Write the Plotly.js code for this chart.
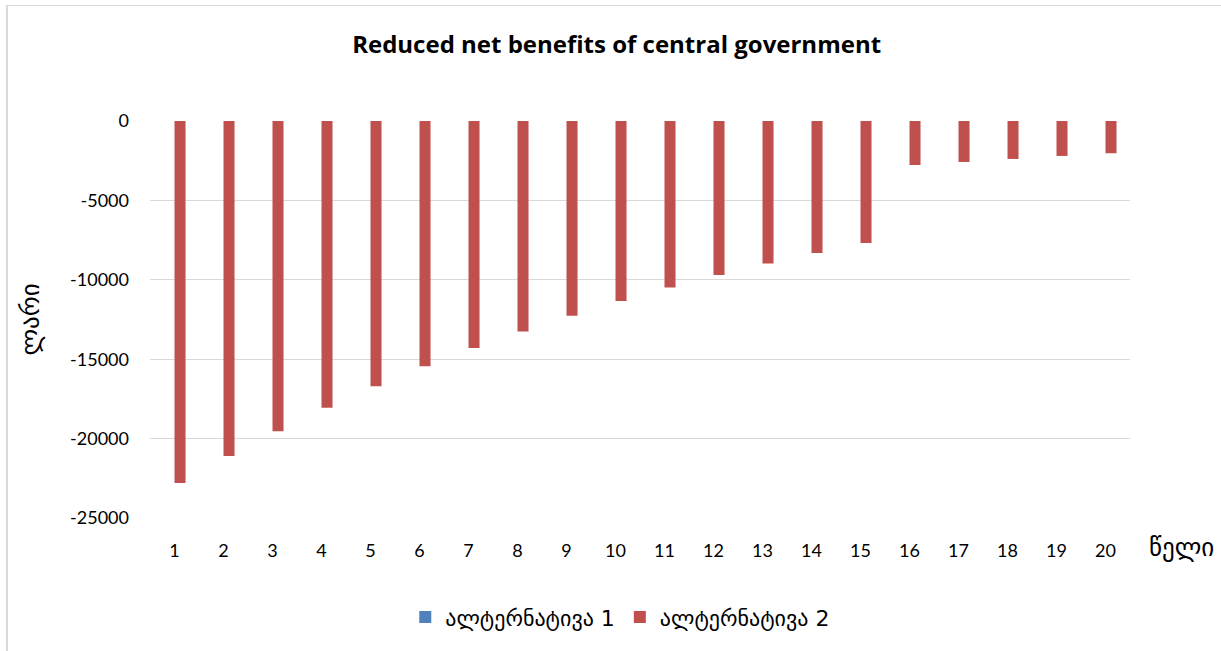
<!DOCTYPE html>
<html>
<head>
<meta charset="utf-8">
<script src="https://cdn.plot.ly/plotly-3.0.1.min.js"></script>
<style>
  html, body { margin: 0; padding: 0; background: #ffffff; }
  #frame { position: absolute; left: 6px; top: 5px; width: 1215px; height: 646px;
           border-left: 2px solid #d9d9d9; border-top: 1px solid #d9d9d9; box-sizing: border-box; }
  #chart { position: absolute; left: 0; top: 0; width: 1221px; height: 651px; }
</style>
</head>
<body>
<div id="frame"></div>
<div id="chart"></div>
<script>
const years = ['1','2','3','4','5','6','7','8','9','10','11','12','13','14','15','16','17','18','19','20'];
const alt1 = [0,0,0,0,0,0,0,0,0,0,0,0,0,0,0,0,0,0,0,0];
const alt2 = [-22800,-21100,-19530,-18050,-16700,-15450,-14300,-13250,-12260,-11340,
              -10480,-9690,-8970,-8320,-7690,-2770,-2580,-2390,-2200,-2030];
const yTickVals = [0, -5000, -10000, -15000, -20000, -25000];
const yTickText = ['0', '-5000', '-10000', '-15000', '-20000', '-25000'];
const seriesNames = ['ალტერნატივა 1', 'ალტერნატივა 2'];
const chartTitle = 'Reduced net benefits of central government';
const yTitle = 'ლარი';
const xTitle = 'წელი';

const tickFont = {family: 'Lato, "Liberation Sans", sans-serif', size: 18, color: '#000000'};
const geoFont = {family: '"DejaVu Sans", sans-serif', size: 22, color: '#000000'};

const traces = [
  {type: 'bar', x: years, y: alt1, name: seriesNames[0], marker: {color: '#4F81BD'}, hoverinfo: 'x+y'},
  {type: 'bar', x: years, y: alt2, name: seriesNames[1], marker: {color: '#C0504D'}, hoverinfo: 'x+y'}
];

const layout = {
  width: 1221, height: 651,
  paper_bgcolor: 'rgba(0,0,0,0)', plot_bgcolor: 'rgba(0,0,0,0)',
  margin: {l: 150, r: 91, t: 121, b: 133},
  barmode: 'group', bargap: 0.55, bargroupgap: 0,
  title: {text: '<b>' + chartTitle + '</b>', font: {family: '"Open Sans", sans-serif', size: 24, color: '#000000'},
          x: 0.505, xref: 'container', xanchor: 'center', y: 0.931, yref: 'container', yanchor: 'middle'},
  xaxis: {type: 'category', tickfont: tickFont, showgrid: false, zeroline: false, showline: false,
          ticks: '', ticklabelstandoff: 20},
  yaxis: {range: [-25000, 0], tickvals: yTickVals, ticktext: yTickText, tickfont: tickFont,
          gridcolor: '#d9d9d9', gridwidth: 1.3,
          zeroline: false, showline: false, ticks: '', ticklabelstandoff: 20},
  showlegend: true,
  legend: {orientation: 'h', xref: 'container', yref: 'container', x: 0.508, xanchor: 'center',
           y: 0.052, yanchor: 'middle', font: geoFont, itemwidth: 30, traceorder: 'normal'},
  annotations: [
    {text: yTitle, xref: 'paper', yref: 'paper', x: -0.1224, y: 0.5, textangle: -90, showarrow: false,
     xanchor: 'center', yanchor: 'middle', font: {family: '"DejaVu Sans", sans-serif', size: 25, color: '#000000'}},
    {text: xTitle, xref: 'paper', yref: 'paper', x: 1.053, y: -0.074, showarrow: false,
     xanchor: 'center', yanchor: 'middle', font: {family: '"DejaVu Sans", sans-serif', size: 25, color: '#000000'}}
  ]
};

Plotly.newPlot('chart', traces, layout, {displayModeBar: false, responsive: false});
</script>
</body>
</html>
